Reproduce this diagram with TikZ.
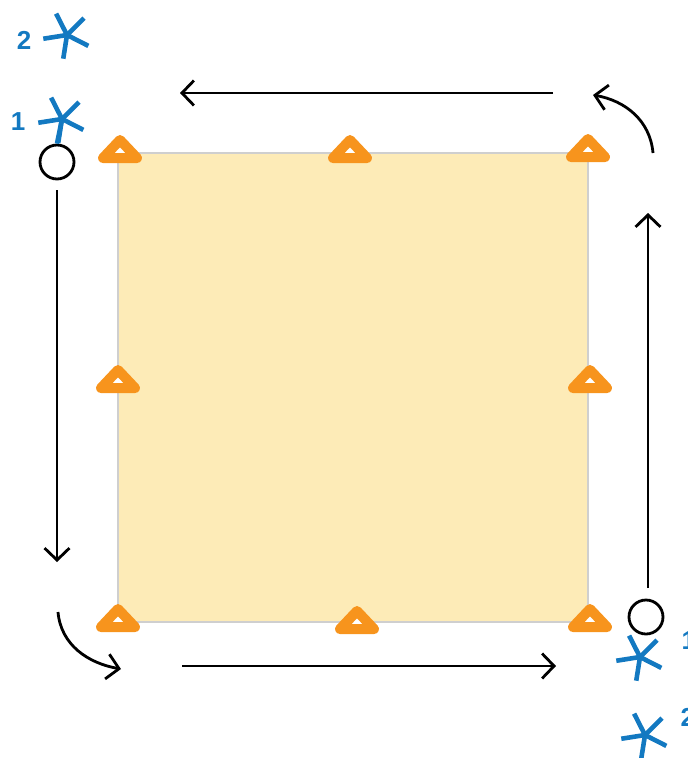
\documentclass[tikz,border=0pt]{standalone}
\usepackage{fontspec}
\setsansfont{Liberation Sans}
\usetikzlibrary{arrows.meta}

\definecolor{starblue}{HTML}{1379C1}
\definecolor{markorange}{HTML}{F7941D}
\definecolor{sheet}{HTML}{FDEBB7}
\definecolor{edge}{HTML}{CFCFCF}

\begin{document}
\begin{tikzpicture}[x=1pt,y=1pt,
    flow/.style={line width=2.8pt,-{Straight Barb[length=12pt,width=25pt,line width=2.8pt]}},
    start/.style={circle,draw,line width=2.8pt,minimum size=34pt,inner sep=0pt},
    num/.style={text=starblue,font=\sffamily\bfseries\fontsize{26}{26}\selectfont},
    arm/.style={starblue,line width=4.6pt},
    marker/.pic={\draw[markorange,fill=white,line width=10pt,line join=round]
      (-17,0) -- (17,0) -- (0,18) -- cycle;}]
  \useasboundingbox (0,0) rectangle (688,-758);

  % the sheet
  \draw[edge,fill=sheet,line width=1.5pt] (118,-153) rectangle (588,-622);

  % markers round the sheet
  \pic at (120,-158) {marker};
  \pic at (350,-158) {marker};
  \pic at (588,-157) {marker};
  \pic at (118,-388) {marker};
  \pic at (590,-388) {marker};
  \pic at (118,-627) {marker};
  \pic at (357,-629) {marker};
  \pic at (590,-627) {marker};

  % start points
  \node[start] (s1) at (57,-162) {};
  \node[start] (s2) at (646,-617) {};

  % stars
  \coordinate (a1) at (62,-119);
  \coordinate (a2) at (67,-35);
  \coordinate (b1) at (640,-657);
  \coordinate (b2) at (645,-735);
  \foreach \c in {a1,a2,b1,b2}
    \foreach \ang in {45,117,189,261,333}
      \draw[arm] (\c) -- ++(\ang:24);
  \draw[arm] (a1) -- (s1.north);

  \node[num] (n1) at (18,-122) {1};
  \node[num] (n2) at (24,-40) {2};
  \node[num,anchor=west] (m1) at (678,-641) {1};
  \node[num,anchor=west] (m2) at (677,-717) {2};

  % path round the sheet
  \coordinate (l1) at (57,-190);
  \coordinate (l2) at (57,-562);
  \coordinate (c1) at (58,-612);
  \coordinate (c2) at (121,-669);
  \coordinate (d1) at (182,-666);
  \coordinate (d2) at (556,-666);
  \coordinate (r1) at (648,-588);
  \coordinate (r2) at (648,-213);
  \coordinate (e1) at (653,-153);
  \coordinate (e2) at (593,-95);
  \coordinate (t1) at (553,-93);
  \coordinate (t2) at (180,-93);

  \draw[flow] (l1) -- (l2);
  \draw[flow] (c1) to[out=-85,in=170] (c2);
  \draw[flow] (d1) -- (d2);
  \draw[flow] (r1) -- (r2);
  \draw[flow] (e1) to[out=95,in=-10] (e2);
  \draw[flow] (t1) -- (t2);
\end{tikzpicture}
\end{document}
